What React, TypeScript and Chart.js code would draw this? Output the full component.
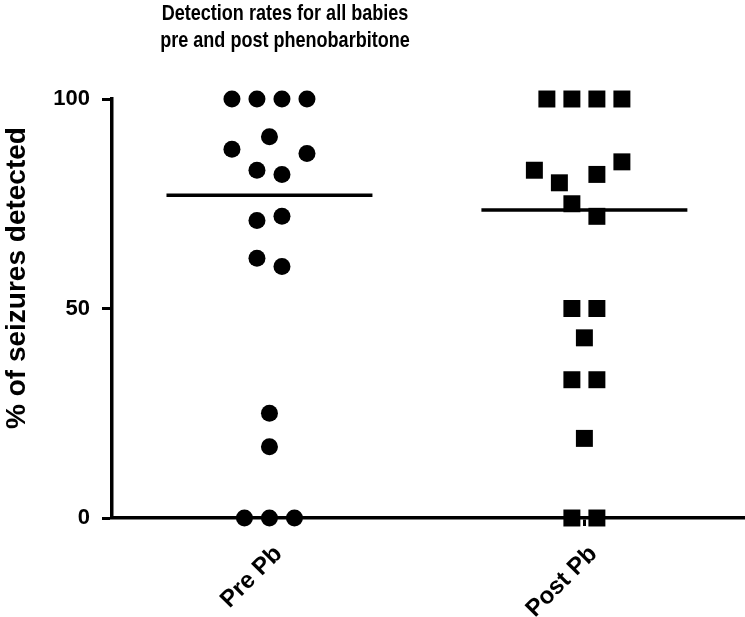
import React, { useEffect, useRef } from 'react';
import { Chart, registerables } from 'chart.js';

Chart.register(...registerables);

// ---- data ----
const categories = ['Pre Pb', 'Post Pb'];
const preValues = [100, 100, 100, 100, 91, 88, 87, 83, 82, 72, 71, 62, 60, 25, 17, 0, 0, 0];
const preSlots = [-1.5, -0.5, 0.5, 1.5, 0, -1.5, 1.5, -0.5, 0.5, 0.5, -0.5, -0.5, 0.5, 0, 0, -1, 0, 1];
const postValues = [100, 100, 100, 100, 85, 83, 82, 80, 75, 72, 50, 50, 43, 33, 33, 19, 0, 0];
const postSlots = [-1.5, -0.5, 0.5, 1.5, 1.5, -2, 0.5, -1, -0.5, 0.5, -0.5, 0.5, 0, -0.5, 0.5, 0, -0.5, 0.5];
const yTicks = [0, 50, 100];
const titleLines = ['Detection rates for all babies', 'pre and post phenobarbitone'];
const yTitle = '% of seizures detected';

// ---- helpers ----
const SLOT = 0.0794; // horizontal jitter step in category units
const MEDIAN_HALF = 0.327;

function median(arr: number[]): number {
  const s = [...arr].sort((a, b) => a - b);
  const n = s.length;
  return n % 2 ? s[(n - 1) / 2] : (s[n / 2 - 1] + s[n / 2]) / 2;
}

function points(values: number[], slots: number[], pos: number) {
  return values.map((v, i) => ({ x: pos + slots[i] * SLOT, y: v }));
}

const textPlugin = {
  id: 'customTexts',
  afterDraw(chart: any) {
    const ctx = chart.ctx;
    ctx.save();
    ctx.fillStyle = '#000';
    ctx.textAlign = 'center';
    ctx.textBaseline = 'alphabetic';
    ctx.font = "bold 22px 'Liberation Sans', Arial, sans-serif";
    ctx.save();
    ctx.translate(285, 0);
    ctx.scale(0.82, 1);
    ctx.fillText(titleLines[0], 0, 20);
    ctx.fillText(titleLines[1], 0, 47);
    ctx.restore();
    ctx.translate(25, 278);
    ctx.rotate(-Math.PI / 2);
    ctx.font = "bold 28px 'Liberation Sans', Arial, sans-serif";
    ctx.fillText(yTitle, 0, 0);
    ctx.restore();
  },
};

export default function App() {
  const ref = useRef<HTMLCanvasElement | null>(null);

  useEffect(() => {
    if (!ref.current) return;
    const preMed = median(preValues);
    const postMed = median(postValues);
    const chart = new Chart(ref.current, {
      type: 'scatter',
      data: {
        datasets: [
          {
            label: categories[0],
            data: points(preValues, preSlots, 1),
            pointStyle: 'circle',
            pointRadius: 8.5,
            pointBorderWidth: 0,
            backgroundColor: '#000',
            borderColor: '#000',
            clip: false as any,
          },
          {
            label: categories[1],
            data: points(postValues, postSlots, 2),
            pointStyle: 'rect',
            pointRadius: 12,
            pointBorderWidth: 0,
            backgroundColor: '#000',
            borderColor: '#000',
            clip: false as any,
          },
          {
            type: 'line' as any,
            label: 'median pre',
            data: [
              { x: 1 - MEDIAN_HALF, y: preMed },
              { x: 1 + MEDIAN_HALF, y: preMed },
            ],
            borderColor: '#000',
            borderWidth: 3.5,
            pointRadius: 0,
            showLine: true,
          },
          {
            type: 'line' as any,
            label: 'median post',
            data: [
              { x: 2 - MEDIAN_HALF, y: postMed },
              { x: 2 + MEDIAN_HALF, y: postMed },
            ],
            borderColor: '#000',
            borderWidth: 3.5,
            pointRadius: 0,
            showLine: true,
          },
        ],
      },
      options: {
        animation: false,
        responsive: false,
        maintainAspectRatio: false,
        layout: { autoPadding: false, padding: { top: 99, left: 0, right: 0, bottom: 0 } },
        plugins: {
          legend: { display: false },
          tooltip: { enabled: false },
          title: { display: false },
        },
        scales: {
          x: {
            type: 'linear',
            min: 0.5,
            max: 2.51,
            afterFit: (s: any) => {
              s.height = 99;
              s.paddingLeft = 0;
              s.paddingRight = 0;
            },
            afterBuildTicks: (s: any) => {
              s.ticks = categories.map((_, i) => ({ value: i + 1 }));
            },
            grid: {
              drawOnChartArea: false,
              drawTicks: true,
              tickLength: 8,
              tickWidth: 3,
              color: '#000',
            },
            border: { display: true, color: '#000', width: 3.5 },
            ticks: {
              autoSkip: false,
              maxRotation: 45,
              minRotation: 45,
              padding: 14,
              labelOffset: 9,
              color: '#000',
              font: { family: "'Liberation Sans', Arial, sans-serif", size: 24, weight: 'bold' },
              callback: (v: any) => categories[Math.round(Number(v)) - 1] ?? '',
            },
          },
          y: {
            type: 'linear',
            min: 0,
            max: 100,
            afterFit: (s: any) => {
              s.width = 112;
              s.paddingTop = 0;
              s.paddingBottom = 0;
            },
            afterBuildTicks: (s: any) => {
              s.ticks = yTicks.map((v) => ({ value: v }));
            },
            grid: {
              drawOnChartArea: false,
              drawTicks: true,
              tickLength: 10,
              tickWidth: 3,
              color: '#000',
            },
            border: { display: true, color: '#000', width: 3.5 },
            ticks: {
              padding: 12,
              color: '#000',
              font: { family: "'Liberation Sans', Arial, sans-serif", size: 22, weight: 'bold' },
            },
          },
        },
      },
      plugins: [textPlugin],
    });
    return () => chart.destroy();
  }, []);

  return (
    <div style={{ position: 'fixed', left: 0, top: 0, width: 745, height: 617, background: '#fff' }}>
      <canvas ref={ref} width={745} height={617} style={{ width: 745, height: 617 }} />
    </div>
  );
}
